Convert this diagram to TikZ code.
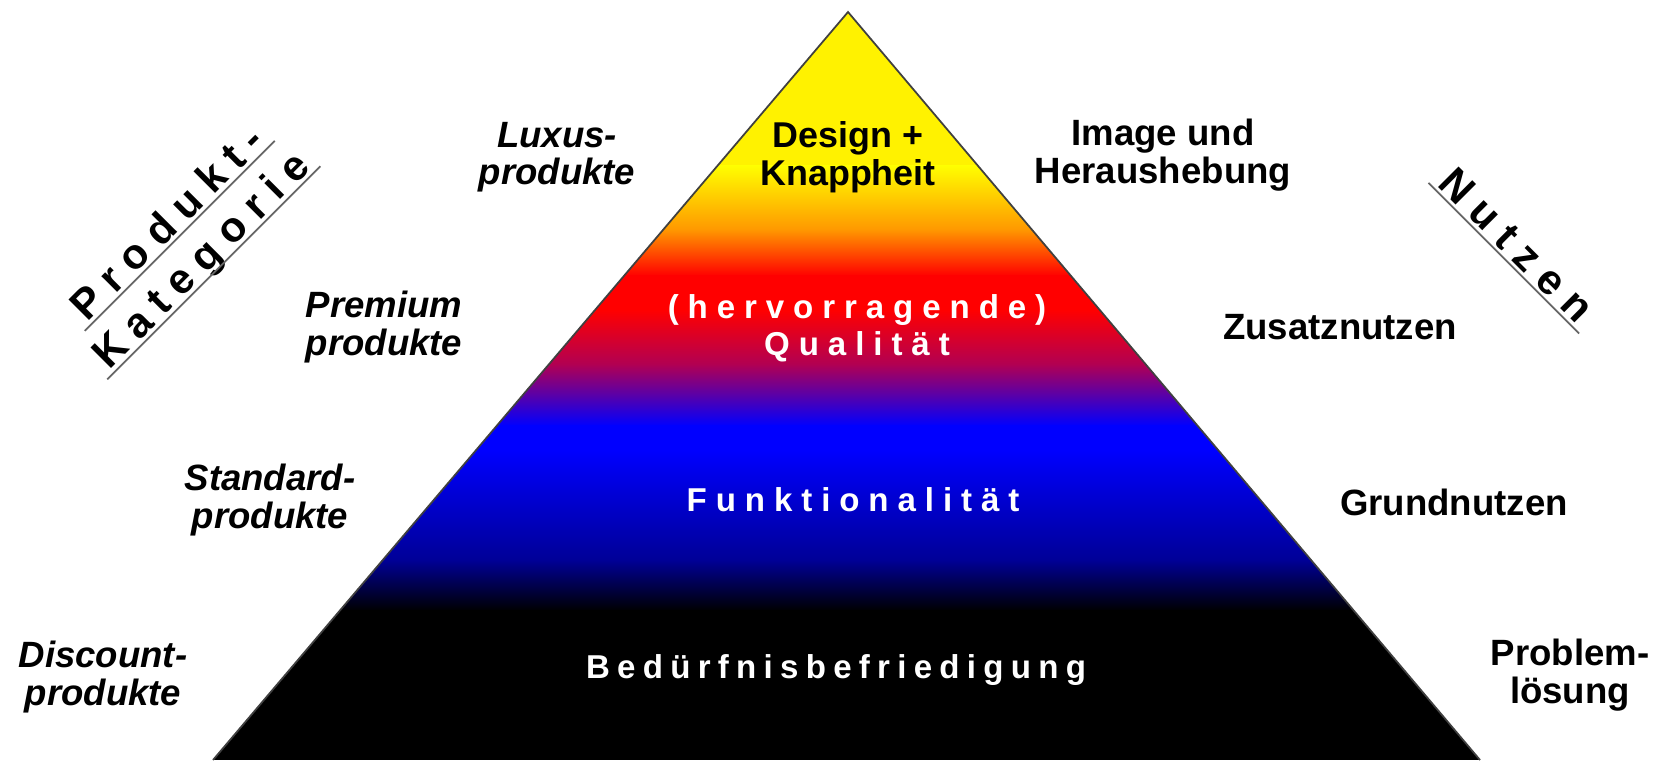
\documentclass[tikz,border=0pt]{standalone}
\usepackage{fontspec}
\setmainfont{Liberation Sans}
\newfontfamily\spaced[LetterSpace=27]{Liberation Sans}
\newfontfamily\narrowspaced[LetterSpace=22]{Liberation Sans}
\usetikzlibrary{positioning}

\definecolor{pyrorange}{RGB}{255,150,0}
\definecolor{pyrcrimson}{RGB}{175,0,85}
\definecolor{pyrdeep}{RGB}{0,0,150}

\tikzset{
  cat/.style={font=\bfseries\itshape\fontsize{10.4}{10.6}\selectfont, align=center, inner sep=1pt},
  benefit/.style={font=\bfseries\fontsize{10.4}{10.6}\selectfont, align=center, inner sep=1pt},
  core/.style={font=\bfseries\fontsize{10.2}{10.8}\selectfont, align=center, inner sep=1pt},
  layer/.style={font=\spaced\bfseries\fontsize{9.4}{10.5}\selectfont, text=white, align=center, inner sep=1pt},
  baselayer/.style={layer, font=\narrowspaced\bfseries\fontsize{9.4}{10.5}\selectfont},
  heading/.style={font=\spaced\bfseries\fontsize{12}{14}\selectfont, inner xsep=2pt, inner ysep=1pt, text depth=0pt},
  underline/.style={draw=black!60, line width=0.5pt}
}

\begin{document}
\begin{tikzpicture}[x=0.01cm,y=-0.01cm]
\useasboundingbox (0,0) rectangle (1655,760);
\coordinate (apex) at (848,12); \coordinate (bl) at (213,760); \coordinate (br) at (1480,760);

% colour bands of the pyramid
\begin{scope}
\clip (apex) -- (bl) -- (br) -- cycle;
\fill[yellow] (0,0) rectangle (1655,166);
\fill[top color=yellow, bottom color=pyrorange] (0,165) rectangle (1655,231);
\fill[top color=pyrorange, bottom color=red] (0,230) rectangle (1655,276);
\fill[red] (0,275) rectangle (1655,311);
\fill[top color=red, bottom color=pyrcrimson] (0,310) rectangle (1655,366);
\fill[top color=pyrcrimson, bottom color=blue] (0,365) rectangle (1655,426);
\fill[blue] (0,425) rectangle (1655,451);
\fill[top color=blue, bottom color=pyrdeep] (0,450) rectangle (1655,561);
\fill[top color=pyrdeep, bottom color=black] (0,560) rectangle (1655,611);
\fill[black] (0,610) rectangle (1655,760);
\end{scope}
\draw[black!75, line width=0.5pt] (bl) -- (apex) -- (br);

% layers
\node[core] (design) at (848,157) {Design +\\Knappheit};
\node[layer] (qual) at (857,328) {(hervorragende)\\Qualität};
\node[layer] (funk) at (853,500) {Funktionalität};
\node[baselayer] (bed) at (836,670) {Bedürfnisbefriedigung};

% product categories
\node[cat] (lux) at (557,157) {Luxus-\\produkte};
\node[cat] (prem) at (384,327) {Premium\\produkte};
\node[cat] (std) at (270,500) {Standard-\\produkte};
\node[cat] (disc) at (103,677) {Discount-\\produkte};

% benefits
\node[benefit] (img) at (1163,155) {Image und\\Heraushebung};
\node[benefit] (zus) at (1340,327) {Zusatznutzen};
\node[benefit] (grund) at (1454,502) {Grundnutzen};
\node[benefit] (prob) at (1570,675) {Problem-\\lösung};

% headings
\node[heading, rotate=45] (prod) at (166,222) {Produkt-};
\node[heading, rotate=45] (kat) at (200,259) {Kategorie};
\node[heading, rotate=-45] (nutz) at (1517,245) {Nutzen};
\draw[underline] (prod.south west) -- (prod.south east);
\draw[underline] (kat.south west) -- (kat.south east);
\draw[underline] (nutz.south west) -- (nutz.south east);
\end{tikzpicture}
\end{document}
